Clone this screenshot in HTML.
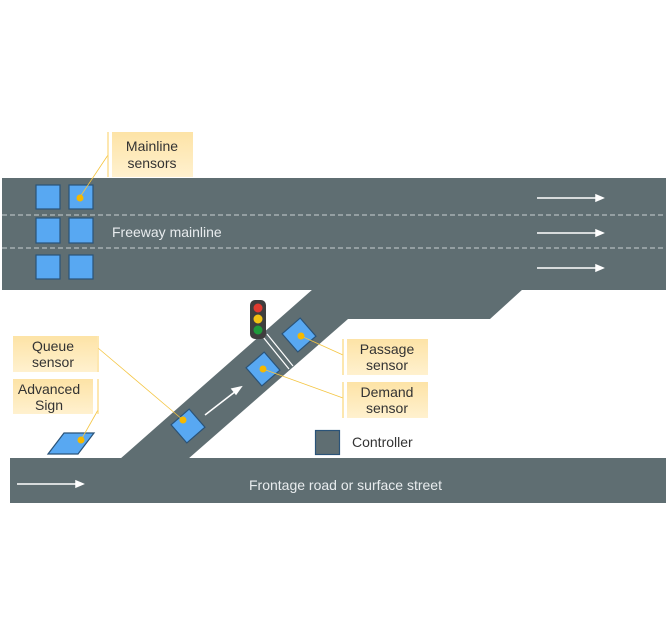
<!DOCTYPE html>
<html><head><style>
html,body{margin:0;padding:0;background:#fff;}
svg{display:block;font-family:"Liberation Sans",sans-serif;}
</style></head><body>
<svg width="668" height="630" viewBox="0 0 668 630" xmlns="http://www.w3.org/2000/svg">
<defs>
<linearGradient id="lg" x1="0" y1="0" x2="0" y2="1"><stop offset="0" stop-color="#fde3a6"/><stop offset="1" stop-color="#fff1cf"/></linearGradient>
</defs>
<rect x="2" y="178" width="664" height="112" fill="#5f6e72"/>
<polygon points="313,289 523,289 490,319 348,319 188,459 120,459" fill="#5f6e72"/>
<rect x="10" y="458" width="656" height="45" fill="#5f6e72"/>
<line x1="2" y1="215" x2="666" y2="215" stroke="#c9d0d2" stroke-width="1" stroke-dasharray="5,3"/>
<line x1="2" y1="248" x2="666" y2="248" stroke="#c9d0d2" stroke-width="1" stroke-dasharray="5,3"/>
<g stroke="#fff" stroke-width="1.5" fill="#fff">
<line x1="537" y1="198" x2="598" y2="198"/><polygon points="603,198 596,195 596,201"/>
<line x1="537" y1="233" x2="598" y2="233"/><polygon points="603,233 596,230 596,236"/>
<line x1="537" y1="268" x2="598" y2="268"/><polygon points="603,268 596,265 596,271"/>
<line x1="17" y1="484" x2="78" y2="484"/><polygon points="83,484 76,481 76,487"/>
<line x1="205" y1="415" x2="236" y2="391"/><polygon points="241,387 232,389 236,394"/>
</g>
<g fill="#58a8f2" stroke="#2a5378" stroke-width="1.2">
<rect x="36" y="185" width="24" height="24"/><rect x="69" y="185" width="24" height="24"/>
<rect x="36" y="218" width="24" height="25"/><rect x="69" y="218" width="24" height="25"/>
<rect x="36" y="255" width="24" height="24"/><rect x="69" y="255" width="24" height="24"/>
<g transform="translate(188 426) rotate(-41)"><rect x="-12" y="-12" width="24" height="24"/></g>
<g transform="translate(263 369) rotate(-41)"><rect x="-12" y="-12" width="24" height="24"/></g>
<g transform="translate(299 335) rotate(-41)"><rect x="-12" y="-12" width="24" height="24"/></g>
<polygon points="48,454 64,433 94,433 78,454"/>
</g>
<line x1="263" y1="337" x2="289" y2="369" stroke="#fff" stroke-width="1.2"/>
<line x1="267" y1="334" x2="293" y2="366" stroke="#fff" stroke-width="1.2"/>
<g stroke="#f4c542" stroke-width="0.8" fill="none">
<line x1="80" y1="197" x2="108" y2="155"/>
<line x1="183" y1="420" x2="98" y2="348"/>
<line x1="81" y1="440" x2="98" y2="410"/>
<line x1="301" y1="336" x2="343" y2="355"/>
<line x1="263" y1="369" x2="343" y2="398"/>
</g>
<g stroke="#fbd77a" stroke-width="1.2">
<line x1="108" y1="132" x2="108" y2="177"/>
<line x1="98" y1="336" x2="98" y2="372"/>
<line x1="98" y1="379" x2="98" y2="414"/>
<line x1="343" y1="339" x2="343" y2="375"/>
<line x1="343" y1="382" x2="343" y2="418"/>
</g>
<g fill="#f5b800">
<circle cx="80" cy="198" r="3.5"/><circle cx="183" cy="420" r="3.5"/><circle cx="81" cy="440" r="3.5"/>
<circle cx="301" cy="336" r="3.5"/><circle cx="263" cy="369" r="3.5"/>
</g>
<g fill="url(#lg)">
<rect x="112" y="132" width="81" height="45"/>
<rect x="13" y="336" width="84" height="36"/>
<rect x="13" y="379" width="80" height="35"/>
<rect x="347" y="339" width="81" height="36"/>
<rect x="347" y="382" width="81" height="36"/>
</g>
<g font-size="14" fill="#333" text-anchor="middle">
<text x="152" y="151">Mainline</text><text x="152" y="168">sensors</text>
<text x="53" y="351">Queue</text><text x="53" y="367">sensor</text>
<text x="49" y="394">Advanced</text><text x="49" y="410">Sign</text>
<text x="387" y="354">Passage</text><text x="387" y="370">sensor</text>
<text x="387" y="397">Demand</text><text x="387" y="413">sensor</text>
</g>
<text x="112" y="237" font-size="14" fill="#e8ecee">Freeway mainline</text>
<text x="249" y="490" font-size="14" fill="#e8ecee">Frontage road or surface street</text>
<rect x="315.5" y="430.5" width="24" height="24" fill="#5f6e72" stroke="#2a5378" stroke-width="1.2"/>
<text x="352" y="447" font-size="14" fill="#333">Controller</text>
<rect x="250" y="300" width="16" height="39" rx="5" fill="#3e3e3e"/>
<circle cx="258" cy="308" r="4.5" fill="#e03a2f"/>
<circle cx="258" cy="319" r="4.5" fill="#f2c313"/>
<circle cx="258" cy="330" r="4.5" fill="#1f9a3b"/>
</svg>
</body></html>
